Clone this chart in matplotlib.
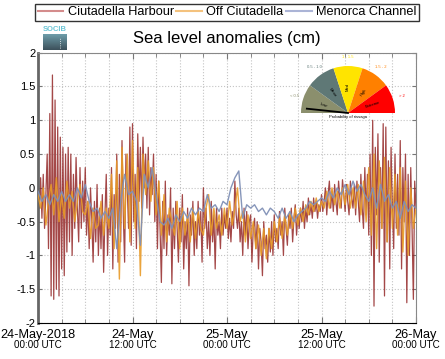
import numpy as np
import pandas as pd
import matplotlib
matplotlib.use("Agg")
import matplotlib.pyplot as plt
import matplotlib.dates as mdates
from matplotlib.patches import Wedge
from matplotlib.lines import Line2D

plt.rcParams['font.family'] = ['Liberation Sans', 'DejaVu Sans']
plt.rcParams['axes.unicode_minus'] = False

# ------------------- DATA (cm) -------------------
# Ciutadella Harbour, 10 min samples from 24-May-2018 00:00 UTC
harbour = [0.0, -0.3, 0.15, -0.45, 0.2, -0.6, -0.1, 0.5, -0.9, 1.1, -1.6, 1.67,
           -1.65, 1.3, -1.5, 0.9, -1.6, 0.75, -1.2, 0.6, -1.3, 0.5, -0.95, 0.6,
           -0.8, 0.5, -1.0, 0.2, -0.6, 0.45, -0.3, -0.8, 0.3, -0.6, 0.1, -0.5,
           0.3, -0.7, -0.2, -0.9, 0.0, -0.5, -1.1, -0.2, -0.8, 0.05, -1.0, -0.3,
           -0.9, -0.1, -1.25, -0.4, 0.2, -1.0, -0.3, -0.7, 0.3, -1.2, -0.1, -0.6,
           0.5, -1.1, 0.2, -0.8, 0.7, -0.4, -1.1, 0.5, 0.0, -0.6, 0.9, -0.85,
           0.95, -0.5, 0.2, -0.9, 0.8, -0.2, 0.6, -0.3, 0.75, 0.0, 0.5, -0.3,
           0.6, -0.4, 0.3, -0.1, 0.5, -0.5, 0.2, -0.9, 0.1, -0.6, -1.4, -0.2,
           -0.9, 0.1, -1.0, -0.4, -0.7, 0.0, -1.42, -0.3, -0.9, -0.2, -0.6, -1.1,
           -0.3, -0.8, -0.1, -1.2, -0.5, -0.9, -0.3, -1.45, -0.4, -0.7, -0.2, -1.0,
           -0.5, -0.9, -0.2, -0.7, -0.35, -1.1, 0.0, -0.6, -0.3, -0.9, -0.5, -1.0,
           -0.2, -0.8, -0.4, -1.2, -0.3, -0.7, -0.5, -0.9, -0.3, -0.7, -0.4, -0.6,
           -0.3, -0.75, -0.45, -0.8, -0.35, -0.6, 0.1, -0.4, -0.6, -0.3, -0.8, -0.5,
           -1.0, -0.3, -0.7, -0.35, -0.9, -0.5, -0.4, -1.1, -0.6, -0.45, -0.9, -0.5,
           -1.2, -0.6, -0.8, -1.3, -0.5, -0.9, -0.7, -1.1, -0.6, -0.95, -0.5, -1.0,
           -0.4, -0.8, -0.6, -0.9, -0.35, -0.7, -0.5, -1.0, -0.3, -0.6, -0.85, -0.4,
           -0.6, -0.3, -0.8, -0.45, -0.25, -0.7, -0.4, -0.6, -0.3, -0.5, -0.2, -0.6,
           -0.3, -0.5, -0.15, -0.4, -0.25, -0.45, -0.15, -0.35, -0.2, -0.45, -0.25, -0.35,
           -0.1, -0.35, -0.2, 0.0, -0.4, -0.1, 0.1, -0.3, -0.05, -0.35, 0.05, -0.2,
           -0.4, 0.1, -0.15, -0.3, 0.12, -0.1, -0.35, 0.05, -0.2, -0.4, 0.1, -0.15,
           -0.3, 0.05, -0.4, 0.1, -0.2, -0.5, 0.2, -0.3, -0.6, 0.3, -0.4, 0.2,
           -0.7, 0.5, -1.0, 1.0, -1.75, 0.6, -0.4, 0.8, -1.1, 0.3, -0.6, 0.95,
           -1.6, 0.9, -0.8, 0.4, -1.2, 0.6, -0.3, -0.9, 0.5, -0.6, 0.2, -0.7,
           0.7, -1.2, 0.3, -0.5, 0.5, -1.7, 0.2, -1.0, 0.3, -0.6, -1.65, 0.1,
           -0.3]

# Off Ciutadella, 20 min samples
off_ciutadella = [-0.1, -0.3, 0.0, -0.55, -0.2, 0.05, -0.4, 0.15, -0.5, -0.1, -0.45, 0.1,
                  -0.3, -0.05, -0.5, -0.2, 0.05, -0.35, -0.4, -0.2, -0.75, -0.3, -0.6, -0.55,
                  -0.2, -0.7, -0.3, -0.6, 0.2, -0.9, 0.4, -1.35, 0.6, -0.6, 0.5, -0.8,
                  0.7, -0.6, 0.3, -1.3, 0.5, -0.1, 0.4, -0.2, 0.3, -0.4, 0.1, -0.7,
                  -0.1, -0.8, -0.3, -0.5, -0.7, -0.2, -0.9, -0.3, -0.7, -0.4, -0.8, -0.3,
                  -0.75, -0.35, -0.6, -0.7, -0.3, -0.1, -0.7, -0.3, -0.6, -0.4, -0.7, -0.3,
                  -0.6, -0.2, -0.55, -0.3, 0.0, -0.5, -0.35, -0.8, -0.4, -0.75, -0.5, -0.9,
                  -0.55, -1.0, -0.6, -1.05, -0.6, -0.9, -0.5, -0.8, -0.45, -0.75, -0.4, -0.7,
                  -0.35, -0.6, -0.3, -0.55, -0.3, -0.5, -0.25, -0.4, -0.2, -0.35, -0.15, -0.35,
                  -0.2, -0.3, -0.05, -0.3, 0.0, -0.25, -0.05, -0.3, 0.0, -0.25, 0.05, -0.3,
                  0.0, -0.3, 0.05, -0.4, 0.1, -0.5, 0.3, -0.7, 0.5, -0.9, 0.4, -0.6,
                  0.45, -0.8, 0.3, -0.6, 0.2, -0.7, 0.3, -0.95, 0.1, -1.0, 0.0, -0.6,
                  -0.3]

# Menorca Channel, 30 min samples
menorca_channel = [-0.05, -0.2, -0.1, -0.25, -0.1, -0.2, -0.05, -0.2,
                   -0.1, -0.2, 0.0, -0.15, 0.05, -0.2, -0.35, -0.3,
                   -0.45, -0.35, -0.45, -0.3, -0.9, -0.2, 0.2, -0.1,
                   -0.05, -0.2, -0.85, 0.2, 0.0, 0.3, -0.1, -0.5,
                   -0.55, -0.45, -0.6, -0.4, -0.5, -0.35, -0.45, -0.3,
                   -0.4, -0.3, -0.35, -0.1, -0.3, -0.25, -0.35, -0.2,
                   -0.25, 0.0, 0.15, 0.25, -0.45, -0.25, -0.3, -0.25,
                   -0.35, -0.3, -0.4, -0.3, -0.35, -0.45, -0.3, -0.45,
                   -0.35, -0.5, -0.4, -0.35, -0.3, -0.2, -0.25, -0.2,
                   -0.15, -0.2, -0.05, -0.15, 0.0, -0.1, 0.05, -0.1,
                   0.1, -0.05, 0.05, -0.1, -0.2, 0.0, -0.3, 0.05,
                   -0.2, -0.1, -0.3, -0.2, -0.45, -0.2, -0.35, -0.25,
                   -0.3]

start = "2018-05-24 00:00"
t_harbour = pd.date_range(start, periods=len(harbour), freq="10min")
t_off = pd.date_range(start, periods=len(off_ciutadella), freq="20min")
t_channel = pd.date_range(start, periods=len(menorca_channel), freq="30min")

tick_dates = pd.to_datetime(["2018-05-24 00:00", "2018-05-24 12:00", "2018-05-25 00:00",
                             "2018-05-25 12:00", "2018-05-26 00:00"])
tick_day = ["24-May-2018", "24-May", "25-May", "25-May", "26-May"]
tick_hour = ["00:00 UTC", "12:00 UTC", "00:00 UTC", "12:00 UTC", "00:00 UTC"]
y_ticks = [-2, -1.5, -1, -0.5, 0, 0.5, 1, 1.5, 2]
y_labels = ["-2", "-1.5", "-1", "-0.5", "0", "0.5", "1", "1.5", "2"]

series_names = ["Ciutadella Harbour", "Off Ciutadella", "Menorca Channel"]
line_colors = ["#942828", "#e89a28", "#8090b6"]
legend_colors = ["#d48c8c", "#f4c27e", "#abb4d6"]

# gauge (rissaga warning)
gauge_colors = ["#8b8f6d", "#5f7876", "#ffe400", "#ff8000", "#ff0000"]
gauge_labels = ["< 0.5", "0.5 - 1.0", "1 - 1.5", "1.5 - 2", "> 2"]
gauge_words = ["Low", "Minor", "Med", "High", "Extreme"]
needle_angle = 174

# ------------------- FIGURE -------------------------
W, H = 445, 359
fig = plt.figure(figsize=(W / 100, H / 100), dpi=100)
ax = fig.add_axes([38 / W, 1 - 323 / H, 378 / W, 270.3 / H])

ax.plot(t_harbour, harbour, color=line_colors[0], lw=0.9, alpha=0.85, zorder=2)
ax.plot(t_off, off_ciutadella, color=line_colors[1], lw=1.0, alpha=0.9, zorder=3)
ax.plot(t_channel, menorca_channel, color=line_colors[2], lw=1.0, alpha=0.95, zorder=4)

ax.set_xlim(tick_dates[0], tick_dates[-1])
ax.set_ylim(-2, 2)
ax.set_yticks(y_ticks)
ax.set_yticklabels(y_labels, fontsize=8)
ax.set_xticks(tick_dates)
ax.set_xticklabels(tick_day, fontsize=9.2)
ax.xaxis.set_minor_locator(mdates.HourLocator(byhour=range(0, 24, 3)))
ax.tick_params(axis='both', which='both', direction='in', top=True, right=True,
               color='#777777')
ax.tick_params(axis='x', which='major', length=4, pad=4)
ax.tick_params(axis='x', which='minor', length=3)
ax.tick_params(axis='y', length=3, pad=2)
ax.grid(True, which='both', axis='x', ls=':', color='#c4c4c4', lw=0.8)
ax.grid(True, which='major', axis='y', ls=':', color='#c4c4c4', lw=0.8)
ax.set_axisbelow(True)

for d, lbl in zip(tick_dates, tick_hour):
    ax.annotate(lbl, xy=(d, 0), xycoords=('data', 'axes fraction'),
                xytext=(0, -15.5), textcoords='offset points',
                ha='center', va='center', fontsize=7.1)

ax.spines['left'].set_linewidth(2)
ax.spines['left'].set_color('#666666')
ax.spines['bottom'].set_color('black')
for s in ['top', 'right']:
    ax.spines[s].set_color('#888888')

ax.set_title("Sea level anomalies (cm)", fontsize=12, pad=7)

handles = [Line2D([], [], color=c, lw=1.5) for c in legend_colors]
fig.legend(handles, series_names, loc='lower left', ncol=3, mode='expand',
           bbox_to_anchor=(35 / W, 1 - 21 / H, 384 / W, 19 / H),
           fontsize=9.2, frameon=True, fancybox=False, edgecolor='black',
           handlelength=2.0, handletextpad=0.35, borderaxespad=0,
           borderpad=0.2, columnspacing=0.5).get_frame().set_linewidth(1)

# SOCIB logo
logo = fig.add_axes([43 / W, 1 - 50 / H, 24 / W, 16 / H])
grad = np.linspace(0, 1, 32).reshape(-1, 1)
logo.imshow(grad, aspect='auto', extent=(0, 24, 0, 16),
            cmap=matplotlib.colors.LinearSegmentedColormap.from_list(
                'logo', ['#3d515b', '#6d9ca9']), origin='lower')
logo.plot([17, 17], [2, 13], ls=':', color='white', lw=0.6)
logo.set_xlim(0, 24)
logo.set_ylim(0, 16)
logo.axis('off')
fig.text(55 / W, 1 - 29.5 / H, "SOCIB", color='#6cc5d6', fontsize=5.5,
         fontweight='bold', ha='center', va='center')

# gauge inset
gx0, gx1, gy0, gy1 = 288, 408, 52, 128
cx, cy, r = 348, 113, 47
gax = fig.add_axes([gx0 / W, 1 - gy1 / H, (gx1 - gx0) / W, (gy1 - gy0) / H])
gax.set_xlim((gx0 - cx) / r, (gx1 - cx) / r)
gax.set_ylim((cy - gy1) / r, (cy - gy0) / r)
gax.axis('off')
for k, col in enumerate(gauge_colors):
    a0 = 180 - 36 * (k + 1)
    gax.add_patch(Wedge((0, 0), 1, a0, a0 + 36, facecolor=col, edgecolor='none'))
    mid = np.radians(a0 + 18)
    gax.text(1.2 * np.cos(mid), 1.2 * np.sin(mid), gauge_labels[k], color=col,
             fontsize=3, ha='center', va='center')
    rot = np.degrees(mid) - 180 if np.degrees(mid) > 90 else np.degrees(mid)
    gax.text(0.55 * np.cos(mid), 0.55 * np.sin(mid), gauge_words[k], color='black',
             fontsize=3, ha='center', va='center', rotation=rot)
na = np.radians(needle_angle)
gax.plot([0, 0.88 * np.cos(na)], [0, 0.88 * np.sin(na)], color='black', lw=1.3)
gax.text(0, -0.09, "Probability of rissaga", fontsize=3, ha='center', va='center')

fig.savefig("out.png", dpi=100)
